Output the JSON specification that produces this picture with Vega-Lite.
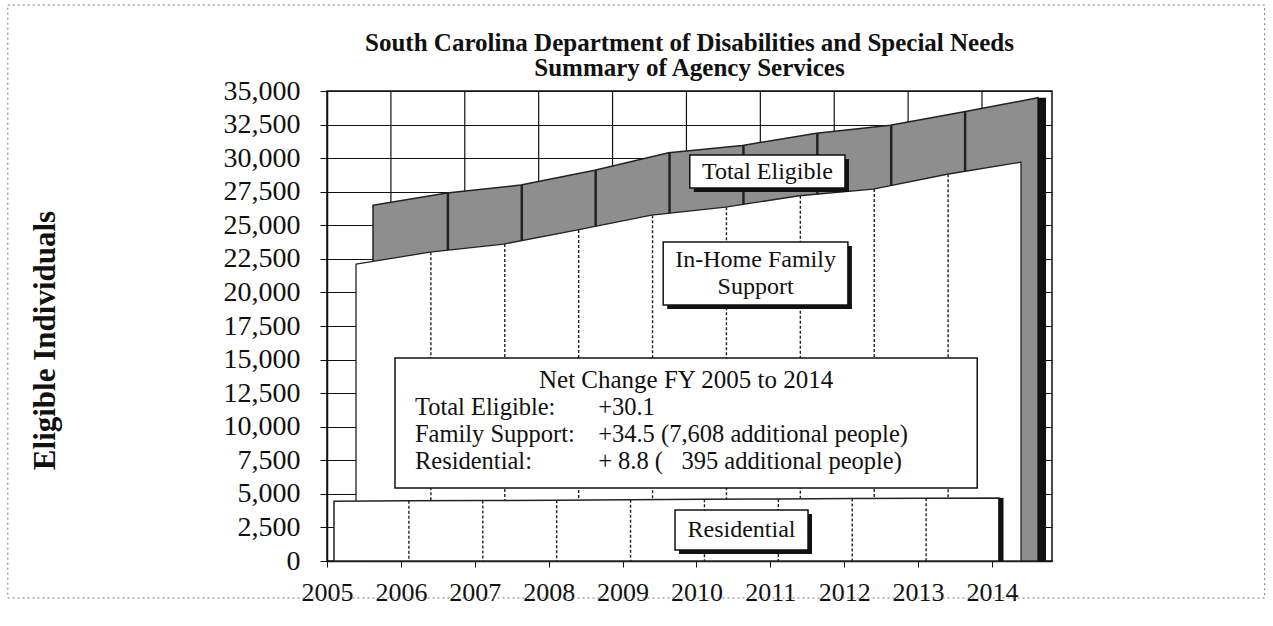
{
  "$schema": "https://vega.github.io/schema/vega-lite/v6.json",
  "width": 725,
  "height": 470,
  "autosize": {"type": "none"},
  "padding": {"left": 327, "top": 91, "right": 221, "bottom": 65},
  "background": "white",
  "config": {
    "font": "Liberation Serif",
    "view": {"stroke": "#111", "strokeWidth": 1.5},
    "axis": {"labelFont": "Liberation Serif", "titleFont": "Liberation Serif", "labelColor": "#111", "titleColor": "#111", "domainColor": "#111", "tickColor": "#111"}
  },
  "title": {
    "text": ["South Carolina Department of Disabilities and Special Needs", "Summary of Agency Services"],
    "font": "Liberation Serif",
    "fontSize": 25,
    "fontWeight": "bold",
    "lineHeight": 25,
    "anchor": "middle",
    "offset": 12,
    "dy": 89,
    "color": "#111"
  },
  "datasets": {
    "series": [
      {"year": 2005, "total": 26500, "family": 22100, "residential": 4450},
      {"year": 2006, "total": 27400, "family": 23000, "residential": 4480},
      {"year": 2007, "total": 28000, "family": 23600, "residential": 4500},
      {"year": 2008, "total": 29100, "family": 24650, "residential": 4530},
      {"year": 2009, "total": 30400, "family": 25750, "residential": 4560},
      {"year": 2010, "total": 30950, "family": 26350, "residential": 4590},
      {"year": 2011, "total": 31850, "family": 27200, "residential": 4620},
      {"year": 2012, "total": 32450, "family": 27700, "residential": 4650},
      {"year": 2013, "total": 33450, "family": 28800, "residential": 4680},
      {"year": 2014, "total": 34500, "family": 29700, "residential": 4700}
    ],
    "labelBoxes": [
      {"name": "Total Eligible", "x1": 2009.91, "x2": 2012.01, "y1": 30235, "y2": 27777},
      {"name": "In-Home Family Support", "x1": 2009.55, "x2": 2012.05, "y1": 23756, "y2": 19064},
      {"name": "Residential", "x1": 2009.71, "x2": 2011.51, "y1": 3798, "y2": 819}
    ],
    "noteBox": [
      {"name": "Net Change", "x1": 2005.92, "x2": 2013.8, "y1": 15117, "y2": 5436}
    ],
    "frame": [
      {"x1": 2000.68, "x2": 2017.69, "y1": 41405, "y2": -2755}
    ],
    "labelText": [
      {"text": "Total Eligible", "x": 2010.96, "y": 28969},
      {"text": "In-Home Family", "x": 2010.8, "y": 22415},
      {"text": "Support", "x": 2010.8, "y": 20405},
      {"text": "Residential", "x": 2010.61, "y": 2309}
    ],
    "noteTitle": [
      {"text": "Net Change FY 2005 to 2014", "x": 2009.86, "y": 13479}
    ],
    "leftText": [
      {"text": "Total Eligible:", "x": 2006.19, "y": 11394},
      {"text": "Family Support:", "x": 2006.19, "y": 9383},
      {"text": "Residential:", "x": 2006.19, "y": 7372},
      {"text": "+30.1", "x": 2008.67, "y": 11394},
      {"text": "+34.5 (7,608 additional people)", "x": 2008.67, "y": 9383},
      {"text": "+ 8.8 (\u00a0\u00a0\u00a0395 additional people)", "x": 2008.67, "y": 7372}
    ]
  },
  "encoding": {
    "x": {
      "field": "year",
      "type": "quantitative",
      "scale": {"domain": [2005, 2014.812], "nice": false, "zero": false},
      "axis": {
        "values": [2005, 2006, 2007, 2008, 2009, 2010, 2011, 2012, 2013, 2014],
        "format": "d",
        "title": null,
        "grid": false,
        "labelOverlap": false,
        "labelFlush": false,
        "labelFontSize": 26,
        "labelPadding": 12,
        "tickSize": 6,
        "domainWidth": 1.5
      }
    },
    "y": {
      "type": "quantitative",
      "scale": {"domain": [0, 35000], "nice": false},
      "axis": {
        "values": [0, 2500, 5000, 7500, 10000, 12500, 15000, 17500, 20000, 22500, 25000, 27500, 30000, 32500, 35000],
        "format": ",d",
        "title": "Eligible Individuals",
        "titleFontSize": 31,
        "titleFontWeight": "bold",
        "titlePadding": 162,
        "titleY": 249,
        "labelOverlap": false,
        "labelFlush": false,
        "labelFontSize": 28,
        "labelPadding": 20,
        "tickSize": 7,
        "grid": true,
        "gridColor": "#111",
        "gridWidth": 1.2,
        "domainWidth": 1.5
      }
    }
  },
  "layer": [
    {
      "data": {"name": "series"},
      "transform": [{"filter": "datum.year >= 2006"}],
      "mark": {"type": "rule", "xOffset": -10, "color": "#111", "strokeWidth": 1.2},
      "encoding": {"y": {"datum": 0}, "y2": {"datum": 35000}}
    },
    {
      "data": {"name": "series"},
      "mark": {"type": "area", "xOffset": 46, "color": "#8e8e8e", "stroke": "#222", "strokeWidth": 1.5, "opacity": 1},
      "encoding": {"y": {"field": "total"}}
    },
    {
      "data": {"name": "series"},
      "transform": [{"filter": "datum.year >= 2006 && datum.year <= 2013"}],
      "mark": {"type": "rule", "xOffset": 47, "color": "#222", "strokeWidth": 2.5},
      "encoding": {"y": {"field": "total"}, "y2": {"datum": 0}}
    },
    {
      "data": {"name": "series"},
      "transform": [{"filter": "datum.year == 2014"}],
      "mark": {"type": "rule", "xOffset": 50, "color": "#111", "strokeWidth": 8},
      "encoding": {"y": {"field": "total"}, "y2": {"datum": 0}}
    },
    {
      "data": {"name": "series"},
      "mark": {"type": "area", "xOffset": 29, "color": "white", "stroke": "#222", "strokeWidth": 1.3, "opacity": 1},
      "encoding": {"y": {"field": "family"}}
    },
    {
      "data": {"name": "series"},
      "transform": [{"filter": "datum.year >= 2006 && datum.year <= 2013"}],
      "mark": {"type": "rule", "xOffset": 30, "color": "#222", "strokeWidth": 1.4, "strokeDash": [3, 2]},
      "encoding": {"y": {"field": "family"}, "y2": {"datum": 0}}
    },
    {
      "data": {"name": "series"},
      "mark": {"type": "area", "xOffset": 7, "color": "white", "stroke": "#222", "strokeWidth": 1.5, "opacity": 1},
      "encoding": {"y": {"field": "residential"}}
    },
    {
      "data": {"name": "series"},
      "transform": [{"filter": "datum.year >= 2006 && datum.year <= 2013"}],
      "mark": {"type": "rule", "xOffset": 8, "color": "#222", "strokeWidth": 1.4, "strokeDash": [3, 2]},
      "encoding": {"y": {"field": "residential"}, "y2": {"datum": 0}}
    },
    {
      "data": {"name": "series"},
      "transform": [{"filter": "datum.year == 2014"}],
      "mark": {"type": "rule", "xOffset": 9, "color": "#111", "strokeWidth": 5},
      "encoding": {"y": {"field": "residential"}, "y2": {"datum": 0}}
    },
    {
      "data": {"name": "labelBoxes"},
      "mark": {"type": "rect", "color": "#111", "xOffset": 4, "x2Offset": 4, "yOffset": 4, "y2Offset": 4},
      "encoding": {
        "x": {"field": "x1", "type": "quantitative"},
        "x2": {"field": "x2"},
        "y": {"field": "y1", "type": "quantitative"},
        "y2": {"field": "y2"}
      }
    },
    {
      "data": {"name": "labelBoxes"},
      "mark": {"type": "rect", "fill": "white", "stroke": "#111", "strokeWidth": 1.5},
      "encoding": {
        "x": {"field": "x1", "type": "quantitative"},
        "x2": {"field": "x2"},
        "y": {"field": "y1", "type": "quantitative"},
        "y2": {"field": "y2"}
      }
    },
    {
      "data": {"name": "noteBox"},
      "mark": {"type": "rect", "fill": "white", "stroke": "#111", "strokeWidth": 1.5},
      "encoding": {
        "x": {"field": "x1", "type": "quantitative"},
        "x2": {"field": "x2"},
        "y": {"field": "y1", "type": "quantitative"},
        "y2": {"field": "y2"}
      }
    },
    {
      "data": {"name": "labelText"},
      "mark": {"type": "text", "font": "Liberation Serif", "fontSize": 24, "align": "center", "baseline": "middle", "color": "#111"},
      "encoding": {
        "x": {"field": "x", "type": "quantitative"},
        "y": {"field": "y", "type": "quantitative"},
        "text": {"field": "text"}
      }
    },
    {
      "data": {"name": "noteTitle"},
      "mark": {"type": "text", "font": "Liberation Serif", "fontSize": 25, "align": "center", "baseline": "middle", "color": "#111"},
      "encoding": {
        "x": {"field": "x", "type": "quantitative"},
        "y": {"field": "y", "type": "quantitative"},
        "text": {"field": "text"}
      }
    },
    {
      "data": {"name": "leftText"},
      "mark": {"type": "text", "font": "Liberation Serif", "fontSize": 24.5, "align": "left", "baseline": "middle", "color": "#111"},
      "encoding": {
        "x": {"field": "x", "type": "quantitative"},
        "y": {"field": "y", "type": "quantitative"},
        "text": {"field": "text"}
      }
    },
    {
      "data": {"name": "frame"},
      "mark": {"type": "rect", "fill": null, "fillOpacity": 0, "stroke": "#777", "strokeWidth": 1, "strokeDash": [2, 3]},
      "encoding": {
        "x": {"field": "x1", "type": "quantitative"},
        "x2": {"field": "x2"},
        "y": {"field": "y1", "type": "quantitative"},
        "y2": {"field": "y2"}
      }
    }
  ]
}
